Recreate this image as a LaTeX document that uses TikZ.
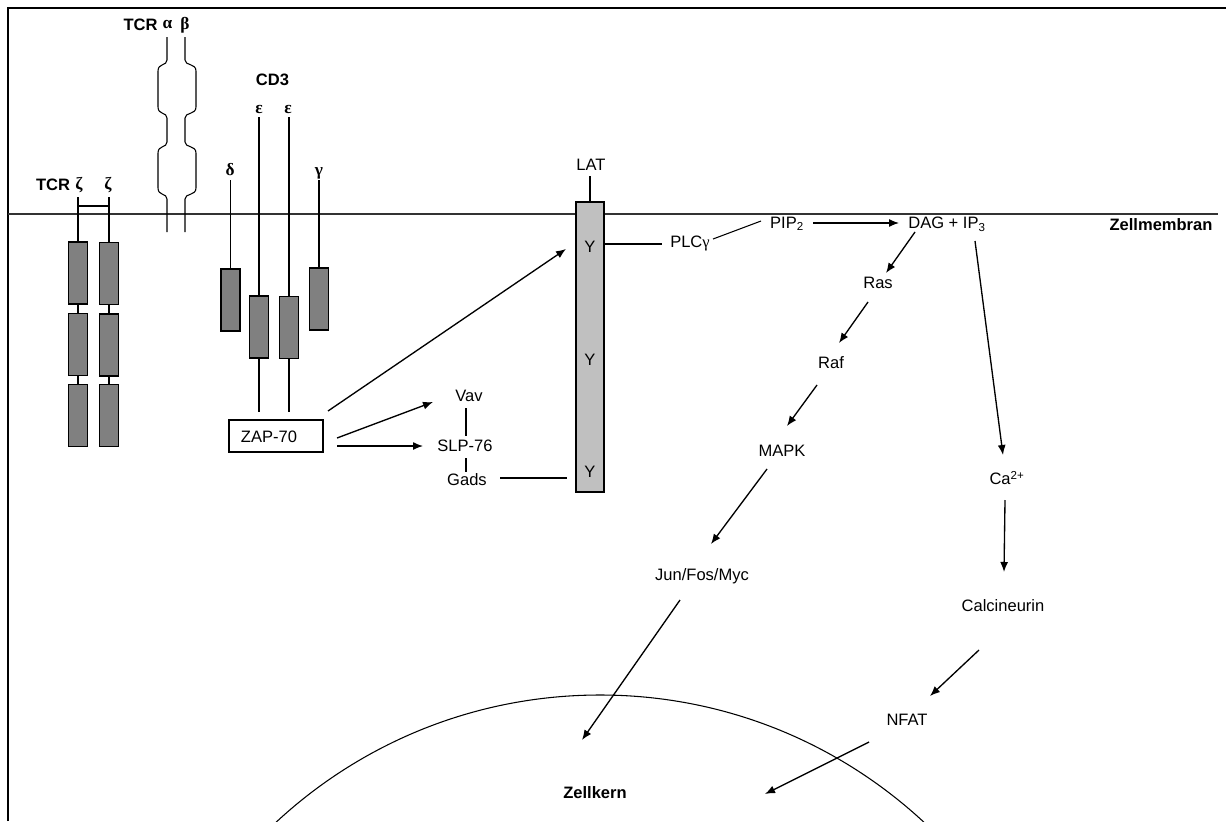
\documentclass[tikz,border=0pt]{standalone}
\usepackage{fontspec}
\setmainfont{Liberation Sans}
\newfontfamily\grk{Liberation Serif}
\usetikzlibrary{arrows.meta}
\definecolor{boxgray}{HTML}{808080}
\definecolor{latgray}{HTML}{C0C0C0}
\begin{document}
\begin{tikzpicture}[x=0.75pt,y=-0.75pt,
  every node/.style={inner sep=0pt, font=\fontsize{12.4}{14}\selectfont},
  ln/.style={line width=0.8pt},
  arr/.style={line width=1pt,-{Latex[length=7.5pt,width=6pt]}},
  blbl/.style={font=\fontsize{12.4}{14}\selectfont\bfseries},
  glbl/.style={font=\fontsize{13}{14}\selectfont\grk\bfseries},
  dbox/.style={draw, fill=boxgray, line width=0.9pt, minimum width=14.25pt, minimum height=46.5pt},
  latbox/.style={draw, fill=latgray, line width=0.9pt, minimum width=21pt, minimum height=217.5pt},
  zapbox/.style={draw, line width=0.8pt, minimum width=70.5pt, minimum height=24pt},
]
\useasboundingbox (0,0) rectangle (1226,821);
% frame
\draw[line width=1.6pt] (8,821) -- (8,8) -- (1226,8);
% nucleus
\begin{scope}
\clip (0,0) rectangle (1226,821);
\draw[ln] (600,1171) circle (357pt);
\end{scope}
% membrane
\coordinate (memL) at (8,214);
\coordinate (memR) at (1218,214);
\draw[line width=1pt, black!80] (memL) -- (memR);
\node[blbl] (zm) at (1161,225) {Zellmembran};

% TCR zeta
\node[blbl] (tcrz) at (53,185) {TCR};
\node[glbl] (zeta1) at (79,185) {ζ};
\node[glbl] (zeta2) at (108,185) {ζ};
\node[dbox] (z1a) at (78,273) {};
\node[dbox] (z1b) at (78,344.5) {};
\node[dbox] (z1c) at (78,415.5) {};
\node[dbox] (z2a) at (109,273.5) {};
\node[dbox] (z2b) at (109,345) {};
\node[dbox] (z2c) at (109,415.5) {};
\coordinate (z1t) at (78,197);
\coordinate (z2t) at (109,197);
\coordinate (z1h) at (78,206);
\coordinate (z2h) at (109,206);
\draw[ln] (z1t) -- (z1a.north);
\draw[ln] (z2t) -- (z2a.north);
\draw[ln] (z1h) -- (z2h);
\draw[ln] (z1a.south) -- (z1b.north);
\draw[ln] (z1b.south) -- (z1c.north);
\draw[ln] (z2a.south) -- (z2b.north);
\draw[ln] (z2b.south) -- (z2c.north);

% TCR alpha beta
\node[blbl] (tcrab) at (140.5,25) {TCR};
\node[glbl] (alpha) at (167.5,25) {α};
\node[glbl] (beta) at (185,25) {β};
\draw[ln] (167,37) -- (167,60) .. controls (167,66) and (158,63) .. (158,71) -- (158,107)
  .. controls (158,115) and (167,112) .. (167,118) -- (167,142)
  .. controls (167,148) and (158,145) .. (158,153) -- (158,188)
  .. controls (158,196) and (167,193) .. (167,199) -- (167,232);
\draw[ln] (185,37) -- (185,60) .. controls (185,66) and (196,63) .. (196,71) -- (196,107)
  .. controls (196,115) and (185,112) .. (185,118) -- (185,142)
  .. controls (185,148) and (196,145) .. (196,153) -- (196,188)
  .. controls (196,196) and (185,193) .. (185,199) -- (185,232);

% CD3
\node[blbl] (cd3) at (272.5,80) {CD3};
\node[glbl] (eps1) at (259,109) {ε};
\node[glbl] (eps2) at (288,109) {ε};
\node[glbl] (delta) at (230,170) {δ};
\node[glbl] (gamma) at (319,173) {γ};
\node[dbox] (bd) at (230.4,300) {};
\node[dbox] (be1) at (259,327) {};
\node[dbox] (be2) at (289,327.3) {};
\node[dbox] (bg) at (319,299) {};
\coordinate (dt) at (230.4,180);
\coordinate (e1t) at (259,117);
\coordinate (e2t) at (289,117);
\coordinate (gt) at (319,180);
\draw[ln] (dt) -- (bd.north);
\draw[ln] (e1t) -- (be1.north);
\draw[ln] (e2t) -- (be2.north);
\draw[ln] (gt) -- (bg.north);
\coordinate (e1b) at (259,412);
\coordinate (e2b) at (289,412);
\draw[ln] (be1.south) -- (e1b);
\draw[ln] (be2.south) -- (e2b);

% ZAP-70
\node[zapbox] (zap) at (276,436) {};
\node (zapt) at (269,437) {ZAP-70};

% LAT
\node[latbox] (lat) at (590,347) {};
\node (latl) at (591,165) {LAT};
\coordinate (latlb) at (590,176);
\draw[ln] (latlb) -- (lat.north);
\node (y1) at (590,247) {Y};
\node (y2) at (590,360) {Y};
\node (y3) at (590,472) {Y};

% Vav / SLP-76 / Gads
\node (vav) at (469,396) {Vav};
\node (slp) at (465,446) {SLP-76};
\node (gads) at (467,480) {Gads};
\draw[ln] (466,408) -- (466,436);
\draw[ln] (466,458) -- (466,472);
\coordinate (gadsE) at (500,478);
\coordinate (latW3) at (567,478);
\draw[ln] (gadsE) -- (latW3);

\coordinate (zapA) at (328,411);
\coordinate (latA) at (566,249);
\draw[arr] (zapA) -- (latA);
\coordinate (zapB) at (337,438);
\coordinate (vavA) at (433,402);
\draw[arr] (zapB) -- (vavA);
\coordinate (zapC) at (337,446);
\coordinate (slpA) at (423,446);
\draw[arr] (zapC) -- (slpA);

% PLC / PIP2 / DAG
\node (plc) at (690,243) {PLC{\grk γ}};
\node (pip) at (787,224) {PIP\textsubscript{2}};
\node (dag) at (947,224) {DAG + IP\textsubscript{3}};
\coordinate (latE) at (604,244);
\coordinate (plcW) at (662,244);
\draw[ln] (latE) -- (plcW);
\draw[ln] (713,239) -- (761,221);
\draw[arr] (813,223) -- (899,223);

% Ras branch
\node (ras) at (878,283) {Ras};
\node (raf) at (831,363) {Raf};
\node (mapk) at (782,451) {MAPK};
\node (jun) at (702,576) {Jun/Fos/Myc};
\draw[arr] (915,232) -- (886,273);
\draw[arr] (868,302) -- (839,343);
\draw[arr] (817,385) -- (787,426);
\draw[arr] (767,469) -- (711,544);
\draw[arr] (680,600) -- (582,740);

% Ca branch
\node (ca) at (1007,478) {Ca\textsuperscript{2+}};
\node (calc) at (1003,606) {Calcineurin};
\node (nfat) at (907,720) {NFAT};
\draw[arr] (975,241) -- (1003,455);
\draw[arr] (1005,500) -- (1004,572);
\draw[arr] (979,650) -- (930,696);
\draw[arr] (869,742) -- (765,794);

\node[blbl] (zk) at (595,793) {Zellkern};
\end{tikzpicture}
\end{document}
